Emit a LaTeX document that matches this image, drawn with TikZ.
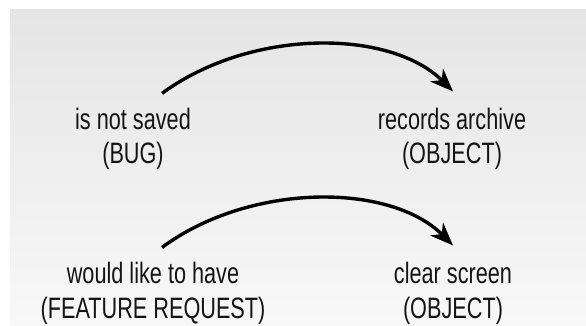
\documentclass[tikz,border=0pt]{standalone}
\usepackage{fontspec}
\setmainfont{Liberation Sans}[FakeStretch=0.735]
\usetikzlibrary{arrows.meta}
\definecolor{bgtop}{RGB}{229,229,229}
\definecolor{bgmid}{RGB}{236,236,236}
\definecolor{bgbot}{RGB}{248,248,248}
\definecolor{ink}{RGB}{20,20,20}
\begin{document}
\begin{tikzpicture}[x=1pt,y=-1pt,
  lbl/.style={align=center,inner sep=0pt,anchor=base,text=ink,
    font=\fontsize{29.5}{35}\selectfont},
  arr/.style={line width=3.4pt,draw=black,
    -{Stealth[length=23pt,width=18pt,inset=7pt]}}]
\useasboundingbox (0,0) rectangle (586,326);
\fill[top color=bgtop,middle color=bgmid,bottom color=bgbot] (10,10) rectangle (586,326);
\node[lbl] (A) at (133,164) {is not saved\\(BUG)};
\node[lbl] (B) at (452,164) {records archive\\(OBJECT)};
\node[lbl] (C) at (153,318) {would like to have\\(FEATURE REQUEST)};
\node[lbl] (D) at (453,318) {clear screen\\(OBJECT)};
\draw[arr] ([xshift=29pt,yshift=14pt]A.north)
  .. controls ([xshift=117pt,yshift=79pt]A.north) and ([xshift=-62pt,yshift=79pt]B.north)
  .. ([xshift=1pt,yshift=16pt]B.north);
\draw[arr] ([xshift=9pt,yshift=14pt]C.north)
  .. controls ([xshift=97pt,yshift=79pt]C.north) and ([xshift=-63pt,yshift=79pt]D.north)
  .. ([xshift=0pt,yshift=16pt]D.north);
\end{tikzpicture}
\end{document}
